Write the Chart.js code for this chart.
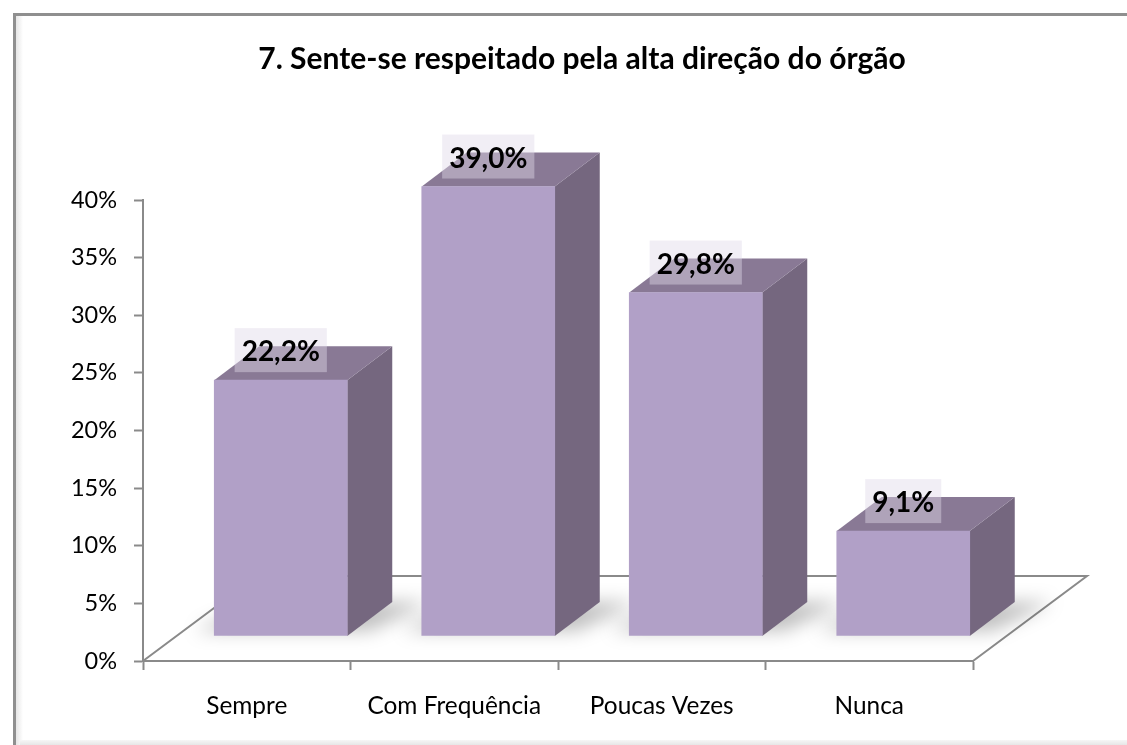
<!DOCTYPE html>
<html lang="pt">
<head>
<meta charset="utf-8">
<title>7. Sente-se respeitado pela alta direção do órgão</title>
<script src="https://cdn.jsdelivr.net/npm/chart.js@4/dist/chart.umd.min.js"></script>
<style>
  html, body { margin: 0; padding: 0; background: #fff; }
  #box { width: 1127px; height: 745px; }
</style>
</head>
<body>
<div id="box"><canvas id="grafico" width="1127" height="745"></canvas></div>
<script>
var titulo = "7. Sente-se respeitado pela alta direção do órgão";
var categorias = ["Sempre", "Com Frequência", "Poucas Vezes", "Nunca"];
var valores = [22.2, 39.0, 29.8, 9.1];
var ticksY = [0, 5, 10, 15, 20, 25, 30, 35, 40];

var FONTE = "Lato, Carlito, Calibri, sans-serif";
var COR_FRENTE = "#b1a0c7";
var COR_LADO = "#75677f";
var COR_TOPO = "#897995";
var COR_EIXO = "#8a8a8a";

// deslocamento da barra dentro do piso e profundidade do efeito 3D
var barraDx = 34, barraDy = 25;
var fundoX = 45, fundoY = 34;
var pisoX = 114, pisoY = 85;

function caminho(ctx, pts) {
  ctx.beginPath();
  ctx.moveTo(pts[0][0], pts[0][1]);
  for (var i = 1; i < pts.length; i++) ctx.lineTo(pts[i][0], pts[i][1]);
  ctx.closePath();
}

var moldura = {
  id: "moldura",
  beforeDraw: function (chart) {
    var ctx = chart.ctx, w = chart.width, h = chart.height;
    ctx.save();
    ctx.fillStyle = "#fff";
    ctx.fillRect(0, 0, w, h);
    var g = ctx.createLinearGradient(15, 0, 23, 0);
    g.addColorStop(0, "#e2e2e2");
    g.addColorStop(1, "#ffffff");
    ctx.fillStyle = g;
    ctx.fillRect(15, 15, 8, h - 15);
    g = ctx.createLinearGradient(0, 740, 0, 745);
    g.addColorStop(0, "#f6f6f6");
    g.addColorStop(1, "#e6e6e6");
    ctx.fillStyle = g;
    ctx.fillRect(20, 740, w - 20, 5);
    ctx.fillStyle = "#8f8f8f";
    ctx.fillRect(13, 13, w - 13, 3);
    ctx.fillRect(13, 13, 3, h - 13);
    ctx.restore();
  }
};

var efeito3d = {
  id: "efeito3d",
  beforeDatasetsDraw: function (chart) {
    var ctx = chart.ctx, a = chart.chartArea;
    var barras = chart.getDatasetMeta(0).data;

    // piso
    ctx.save();
    ctx.strokeStyle = COR_EIXO;
    ctx.lineWidth = 2;
    ctx.beginPath();
    ctx.moveTo(a.left, a.bottom);
    ctx.lineTo(a.left + pisoX, a.bottom - pisoY);
    ctx.lineTo(a.right + pisoX, a.bottom - pisoY);
    ctx.lineTo(a.right, a.bottom);
    ctx.stroke();
    ctx.restore();

    // sombra no piso
    ctx.save();
    ctx.filter = "blur(9px)";
    ctx.fillStyle = "rgba(0,0,0,0.25)";
    barras.forEach(function (b) {
      var esq = b.x - b.width / 2 + barraDx, dir = b.x + b.width / 2 + barraDx;
      var base = a.bottom - barraDy;
      caminho(ctx, [
        [esq - 20, base - 5],
        [esq + fundoX, base - fundoY],
        [dir + fundoX + 38, base - fundoY],
        [dir + 22, base - 5]
      ]);
      ctx.fill();
    });
    ctx.restore();

    // lado e topo das barras
    barras.forEach(function (b) {
      var esq = b.x - b.width / 2 + barraDx, dir = b.x + b.width / 2 + barraDx;
      var topo = b.y - barraDy, base = a.bottom - barraDy;
      ctx.fillStyle = COR_LADO;
      caminho(ctx, [[dir, topo], [dir + fundoX, topo - fundoY], [dir + fundoX, base - fundoY], [dir, base]]);
      ctx.fill();
      ctx.fillStyle = COR_TOPO;
      caminho(ctx, [[esq, topo], [esq + fundoX, topo - fundoY], [dir + fundoX, topo - fundoY], [dir, topo]]);
      ctx.fill();
    });

    ctx.save();
    ctx.translate(barraDx, -barraDy);
  },
  afterDatasetsDraw: function (chart) {
    var ctx = chart.ctx;
    ctx.restore();

    // rotulos com caixa translucida
    var barras = chart.getDatasetMeta(0).data;
    ctx.save();
    ctx.font = "bold 28px " + FONTE;
    ctx.textAlign = "center";
    ctx.textBaseline = "middle";
    barras.forEach(function (b, i) {
      var txt = valores[i].toFixed(1).replace(".", ",") + "%";
      var larg = ctx.measureText(txt).width + 14;
      var cx = b.x + barraDx, fim = b.y - barraDy - 8;
      ctx.fillStyle = "rgba(222,216,232,0.44)";
      ctx.fillRect(cx - larg / 2, fim - 44, larg, 44);
      ctx.fillStyle = "#000";
      ctx.fillText(txt, cx, fim - 20);
    });
    ctx.restore();
  }
};

new Chart(document.getElementById("grafico"), {
  type: "bar",
  data: {
    labels: categorias,
    datasets: [{
      data: valores,
      backgroundColor: COR_FRENTE,
      borderWidth: 0,
      barThickness: 133
    }]
  },
  plugins: [moldura, efeito3d],
  options: {
    responsive: false,
    animation: false,
    layout: { padding: { left: 37, right: 0, top: 0, bottom: 0 } },
    plugins: {
      legend: { display: false },
      tooltip: { enabled: false },
      title: {
        display: true,
        text: titulo,
        color: "#000",
        font: { family: FONTE, size: 30, weight: "bold", lineHeight: 1.2 },
        padding: { top: 41, bottom: 123 }
      }
    },
    scales: {
      x: {
        grid: { drawOnChartArea: false, tickLength: 9, tickColor: COR_EIXO, tickWidth: 2 },
        border: { color: COR_EIXO, width: 2 },
        ticks: { color: "#000", font: { family: FONTE, size: 24.4 }, padding: 22, maxRotation: 0 },
        afterFit: function (s) { s.height = 84; }
      },
      y: {
        min: 0,
        max: 40,
        afterBuildTicks: function (s) { s.ticks = ticksY.map(function (v) { return { value: v }; }); },
        grid: { drawOnChartArea: false, tickLength: 9, tickColor: COR_EIXO, tickWidth: 2 },
        border: { color: COR_EIXO, width: 2 },
        ticks: {
          color: "#000",
          font: { family: FONTE, size: 23.5 },
          padding: 17,
          callback: function (v) { return v + "%"; }
        },
        afterFit: function (s) { s.width = 106; }
      },
      // eixo vazio so para reservar a margem direita
      margem: {
        position: "right",
        min: 0,
        max: 40,
        grid: { display: false },
        border: { display: false },
        ticks: { display: false },
        afterFit: function (s) { s.width = 154; }
      }
    }
  }
});
</script>
</body>
</html>
